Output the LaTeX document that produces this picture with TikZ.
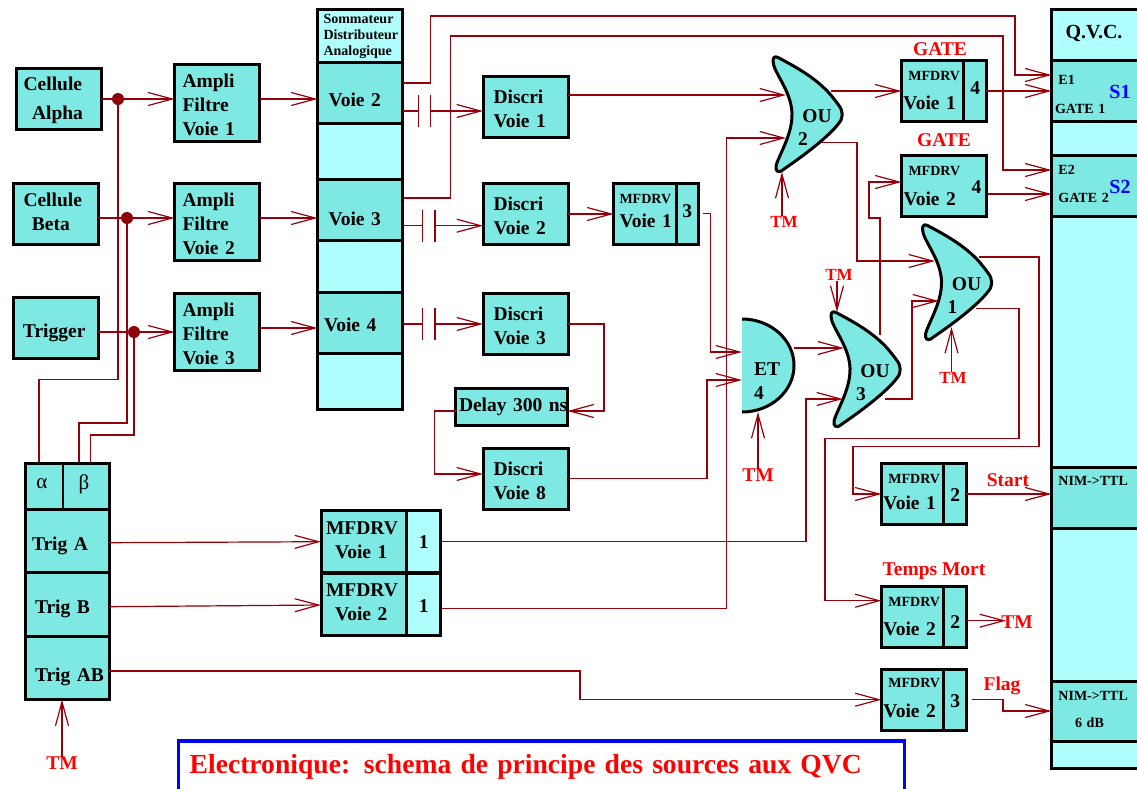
\documentclass[tikz,border=0pt]{standalone}
\usepackage{fontspec}
\setmainfont{Liberation Serif}
\usetikzlibrary{arrows.meta}
\definecolor{CB}{RGB}{125,233,226}
\definecolor{LB}{RGB}{176,255,255}
\definecolor{DR}{RGB}{150,0,10}
\newcommand{\bigf}{\fontsize{19.5}{24}\selectfont\bfseries}
\newcommand{\smallf}{\fontsize{14}{16}\selectfont\bfseries}
\newcommand{\tmf}{\fontsize{17}{20}\selectfont\bfseries}
\newcommand{\titlef}{\fontsize{27.6}{30}\selectfont\bfseries}

\begin{document}
\begin{tikzpicture}[
  x=1pt, y=-1pt,
  cbox/.style={draw=black, line width=3pt, fill=#1, outer sep=0pt, inner ysep=0pt,
               align=left, font=\bigf, minimum height=61pt},
  cbox/.default=CB,
  lowtext/.style={execute at begin node=\rule{0pt}{#1}},
  ampli/.style={cbox, text width=69pt, inner xsep=8pt, minimum height=77pt, lowtext=18pt},
  discri/.style={cbox, text width=64pt, inner xsep=10.5pt, lowtext=18pt},
  voie/.style={cbox, text width=63pt, inner xsep=11pt, text depth=0pt},
  mleft/.style={cbox, text width=58.5pt, inner xsep=2pt},
  mnum/.style={cbox, minimum width=22.5pt, inner xsep=0pt, align=center},
  pleft/.style={cbox, text width=76pt, inner xsep=5pt, minimum height=62pt},
  pnum/.style={cbox=LB, minimum width=34.5pt, inner xsep=0pt, align=center, minimum height=62pt},
  qsec/.style={cbox, font=\smallf, text width=81.3pt, inner xsep=3.6pt},
  trow/.style={cbox, text width=64pt, inner xsep=10pt, minimum height=63pt, text height=22pt, text depth=4pt},
  lab/.style={font=\bigf, inner sep=0pt, outer sep=0pt},
  redlab/.style={lab, text=red},
  tmlab/.style={redlab, font=\tmf},
  wire/.style={draw=DR, line width=1.2pt},
  arr/.style={wire, -{Straight Barb[length=24pt,width=13pt]}},
  jdot/.style={circle, fill=DR!93!black, inner sep=0pt, minimum size=12pt, outer sep=0pt},
  ougate/.pic={
    \draw[draw=black, line width=3pt, fill=CB, line join=round]
      (-1,4) .. controls (-1,0) and (1,-1) .. (4,0.5)
      .. controls (20,9) and (45,22) .. (60,42)
      .. controls (67,51) and (70,54) .. (67,63)
      .. controls (60,75) and (35,95) .. (10,112)
      .. controls (7,115) and (3,116) .. (2,112)
      .. controls (0,105) and (19,80) .. (18,56)
      .. controls (17,33) and (-1,15) .. (-1,4) -- cycle;
    \node[lab] (-ou) at (43,59) {OU};
    \node[lab] (-num) at (29,82) {#1};
  }
]
\useasboundingbox (0,0) rectangle (1137,788);

% sources
\node[cbox, text width=71.4pt, inner xsep=6.8pt, lowtext=16pt] (cella) at (59.3,99) {Cellule\\[5pt]\hspace*{8.4pt}Alpha};
\node[cbox, text width=64pt, inner xsep=10.5pt] (cellb) at (55.5,214) {Cellule\\\hspace*{8.4pt}Beta\rule[-4pt]{0pt}{0pt}};
\node[cbox, text width=65pt, inner xsep=10pt, text height=22pt, text depth=4pt] (trigger) at (55.5,328) {Trigger};
\node[ampli] (ampli1) at (217,103) {Ampli\\Filtre\\Voie~1};
\node[ampli] (ampli2) at (217,222) {Ampli\\Filtre\\Voie~2};
\node[ampli] (ampli3) at (217,332) {Ampli\\Filtre\\Voie~3};

% sommateur
\node[cbox=LB, minimum width=85pt, minimum height=400pt] (somm) at (360,209.5) {};
\node[font=\smallf, align=left, text width=76pt, inner xsep=6pt, inner ysep=0pt] (sommhead) at (361.5,36.5)
  {Sommateur\\Distributeur\\Analogique};
\node[voie, text height=27pt] (voie2) at (360,93) {Voie~2};
\node[voie, text height=31pt] (voie3) at (360,210) {Voie~3};
\node[voie, text height=18pt, text width=72pt, inner xsep=6.5pt] (voie4) at (360,322.5) {Voie~4};

% discri
\node[discri] (discri1) at (525.5,107) {Discri\\Voie~1};
\node[discri] (discri2) at (525.5,214) {Discri\\Voie~2};
\node[discri] (discri3) at (525.5,324) {Discri\\Voie~3};
\node[cbox, text width=105pt, inner xsep=3.5pt, minimum height=37pt, text height=15pt, text depth=6pt] (delay) at (511.5,407) {Delay~300~ns};
\node[discri] (discri8) at (525.5,478.5) {Discri\\Voie~8};

% mfdrv
\node[mleft, text width=50.5pt, inner xsep=6pt] (mfd3) at (644.75,214) {\smallf MFDRV\\\bigf Voie~1\rule[-7pt]{0pt}{0pt}};
\node[mnum, text depth=6pt] (mfd3n) at (687.25,214) {3};
\node[mleft] (gone) at (932.7,91) {\smallf\hspace*{5pt}MFDRV\\[5pt]\bigf Voie~1};
\node[mnum, text depth=6pt] (gonen) at (975.2,91) {4};
\node[cbox, text width=81pt, inner xsep=2pt] (gtwo) at (944,186)
  {\smallf\hspace*{5pt}MFDRV\\[6pt]\bigf Voie~2};
\node[lab] (gtwon) at (976.5,187) {4};
\node[mleft] (start) at (912.7,494) {\smallf\hspace*{5pt}MFDRV\\[2pt]\bigf Voie~1\rule[-5pt]{0pt}{0pt}};
\node[mnum, text height=15pt] (startn) at (955.2,494) {2};
\node[mleft] (tmout) at (912.7,617) {\smallf\hspace*{5pt}MFDRV\\[5pt]\bigf Voie~2};
\node[mnum, text height=23pt] (tmoutn) at (955.2,617) {2};
\node[mleft] (flag) at (912.7,699.7) {\smallf\hspace*{5pt}MFDRV\\[6pt]\bigf Voie~2\rule[-3pt]{0pt}{0pt}};
\node[mnum, text height=15pt] (flagn) at (955.2,699.7) {3};

% trigger box
\node[cbox, minimum width=84pt, minimum height=46pt] (head) at (67,486.5) {};
\draw[black, line width=1.2pt] (head.north-|63,0) -- (head.south-|63,0);
\node[lab, font=\fontsize{21}{24}\selectfont] (alpha) at (42,484) {α};
\node[lab, font=\fontsize{21}{24}\selectfont] (beta) at (84,484) {β};
\node[trow, inner xsep=7pt, text width=70pt] (triga) at (67,541) {Trig~A};
\node[trow, minimum height=64pt] (trigb) at (67,604.5) {Trig~B};
\node[trow, text height=30pt] (trigab) at (67,668) {Trig~AB};

\node[pleft, text height=13pt, text depth=28pt] (pairone) at (364,541.7) {MFDRV\\\hspace*{9pt}Voie~1\rule[-4pt]{0pt}{0pt}};
\node[pnum] (paironen) at (423.7,541.7) {1};
\node[pleft] (pairtwo) at (364,604) {MFDRV\\\hspace*{9pt}Voie~2\rule[-4pt]{0pt}{0pt}};
\node[pnum, text height=16pt] (pairtwon) at (423.7,604) {1};

% QVC
\node[cbox=LB, minimum width=88.5pt, minimum height=759pt] (qvc) at (1095.7,389) {};
\node[lab, font=\fontsize{20}{24}\selectfont\bfseries] (qvchead) at (1094,33) {Q.V.C.};
\node[qsec, lowtext=16pt] (eone) at (1095.7,91) {\hspace*{3.4pt}E1\\[13pt]GATE~1};
\node[qsec] (etwo) at (1095.7,186) {\hspace*{3.4pt}E2\\[12pt]\hspace*{3.4pt}GATE~2\rule[-4pt]{0pt}{0pt}};
\node[lab, font=\fontsize{20}{24}\selectfont\bfseries, text=blue] (sone) at (1120,92) {S1};
\node[lab, font=\fontsize{20}{24}\selectfont\bfseries, text=blue] (stwo) at (1120,187) {S2};
\node[qsec, text depth=34pt] (nimone) at (1095.7,498) {\hspace*{3.4pt}NIM->TTL};
\node[qsec, minimum height=60pt] (nimtwo) at (1095.7,711.5) {\hspace*{3.4pt}NIM->TTL\\[11pt]\hspace*{20pt}6 dB\rule[-4pt]{0pt}{0pt}};

% gates
\pic (ou2) at (774,57) {ougate=2};
\pic (ou1) at (923.5,225) {ougate=1};
\pic (ou3) at (832,312) {ougate=3};
\fill[CB] (742,319) .. controls (770.7,319) and (794,339.8) .. (794,365.5)
  .. controls (794,391.2) and (770.7,412) .. (742,412) -- cycle;
\draw[black, line width=3pt] (742,319) .. controls (770.7,319) and (794,339.8) .. (794,365.5)
  .. controls (794,391.2) and (770.7,412) .. (742,412);
\node[lab, align=left] (et) at (767,381) {ET\\4};

% red labels
\node[redlab] (gateone) at (940,49) {GATE};
\node[redlab] (gatetwo) at (944,140) {GATE};
\node[redlab] (tempsmort) at (934,571) {Temps Mort};
\node[redlab] (startlab) at (1008,480) {Start};
\node[redlab] (flaglab) at (1002,686) {Flag};
\node[redlab] (tmoutlab) at (1017,622) {TM};
\node[redlab] (tmtrig) at (62,763) {TM};
\node[redlab] (tmet) at (758,475) {TM};
\node[tmlab] (tmou2) at (784,222) {TM};
\node[tmlab] (tmou3) at (839,275) {TM};
\node[tmlab] (tmou1) at (953,378) {TM};

% title
\node[draw=blue, line width=3.5pt, inner xsep=11pt, inner ysep=0pt, outer sep=0pt, minimum height=60pt,
      text width=704pt, align=left, font=\titlef, text=red, text depth=14pt] (title) at (541.7,771)
  {Electronique: schema de principe des sources aux QVC};

% sources to ampli
\node[jdot] (dota) at (118,99) {};
\node[jdot] (dotb) at (127,218) {};
\node[jdot] (dotc) at (134,332) {};
\draw[arr] (cella.east) -- (ampli1.west|-cella.east);
\draw[arr] (cellb.east|-dotb) -- (ampli2.west|-dotb);
\draw[arr] (trigger.east|-dotc) -- (ampli3.west|-dotc);
\coordinate (ina) at (39,462);
\coordinate (inb) at (79,462);
\coordinate (inc) at (90.5,462);
\draw[wire] (dota) -- (118,379.5) -| (ina);
\draw[wire] (dotb) -- (127,423) -| (inb);
\draw[wire] (dotc) -- (134,435) -| (inc);

% ampli to sommateur
\draw[arr] (ampli1.east|-0,99) -- (voie2.west|-0,99);
\draw[arr] (ampli2.east|-0,218) -- (voie3.west|-0,218);
\draw[arr] (ampli3.east|-0,328) -- (voie4.west|-0,328);

% capacitors
\foreach \v/\d/\y/\xa/\xb in {voie2/discri1/111/418.5/430.5, voie3/discri2/225.7/422.5/435, voie4/discri3/324/422.5/435} {
  \draw[wire] (\v.east|-0,\y) -- (\xa,\y);
  \draw[wire] (\xa,\y-16) -- (\xa,\y+16);
  \draw[wire] (\xb,\y-16) -- (\xb,\y+16);
  \draw[arr] (\xb,\y) -- (\d.west|-0,\y);
}

% sommateur to QVC
\draw[arr] (voie2.east|-0,83) -- (430.5,83) |- (1015,16) |- (eone.west|-0,75);
\draw[arr] (voie3.east|-0,198) -- (450.5,198) |- (1003,36) |- (etwo.west|-0,170);

% logic
\coordinate (ou2a) at (786,95);
\coordinate (ou2b) at (786,138);
\coordinate (ou2o) at (831,91);
\coordinate (ou2p) at (821,142.7);
\coordinate (ou2t) at (782,172);
\coordinate (ou1a) at (935,261);
\coordinate (ou1b) at (939,301);
\coordinate (ou1o) at (979,257);
\coordinate (ou1p) at (976,308.7);
\coordinate (ou1t) at (951.5,327);
\coordinate (ou3a) at (844,348);
\coordinate (ou3b) at (843,399);
\coordinate (ou3o) at (880,335);
\coordinate (ou3p) at (885,399);
\coordinate (ou3t) at (837,312);
\coordinate (eta) at (742,352);
\coordinate (etb) at (742,380);
\coordinate (eto) at (794,348);
\coordinate (ett) at (758,412);
\draw[arr] (discri1.east|-0,95) -- (ou2a);
\draw[arr] (discri2.east) -- (mfd3.west);
\draw[arr] (703,213.7) -- (710.7,213.7) |- (eta);
\draw[arr] (discri3.east) -- (604,324) |- (delay.east|-0,411);
\draw[arr] (delay.west|-0,411) -- (434.5,411) |- (discri8.west|-0,474);
\draw[arr] (discri8.east) -- (707,478.5) |- (etb);
\draw[arr] (paironen.east) -- (806,541.7) |- (ou3b);
\draw[arr] (pairtwon.east|-0,608.7) -- (726.6,608.7) |- (ou2b);
\draw[arr] (ou2o) -- (gone.west|-ou2o);
\draw[arr] (ou2p) -- (857,142.7) |- (ou1a);
\draw[arr] (eto) -- (ou3a);
\draw[arr] (ou3o) -- (880,218) -- (869,218) |- (gtwo.west|-0,182);
\draw[arr] (ou3p) -- (912,399) |- (ou1b);
\draw[arr] (ou1o) -- (1039,257) |- (853,446.7) |- (start.west);
\draw[arr] (ou1p) -- (1019,308.7) |- (825,438.7) |- (tmout.west|-0,600.7);

% outputs
\draw[arr] (gonen.east) -- (eone.west|-gonen.east);
\draw[arr] (gtwo.east|-0,194) -- (etwo.west|-0,194);
\draw[arr] (startn.east) -- (nimone.west|-startn.east);
\coordinate (tmhead) at (1006,620.7);
\draw[arr] (tmoutn.east|-tmhead) -- (tmhead);
\coordinate (flagout) at (971.5,699.7);
\draw[arr] (flagout) -- (1003,699.7) |- (nimtwo.west|-0,711);

% trigger lines
\draw[arr] (triga.east|-0,542.7) -- (pairone.west);
\draw[arr] (trigb.east|-0,606.7) -- (pairtwo.west|-0,605);
\draw[arr] (trigab.east|-0,671) -- (580,671) |- (flag.west);

% temps mort
\draw[arr] (tmtrig.north) -- (trigab.south-|tmtrig.north);
\draw[arr] (ou2t|-tmou2.north) -- (ou2t);
\draw[arr] (ett|-tmet.north) -- (ett);
\draw[arr] (ou3t|-tmou3.south) -- (ou3t);
\draw[arr] (ou1t|-tmou1.north) -- (ou1t);
\end{tikzpicture}
\end{document}
